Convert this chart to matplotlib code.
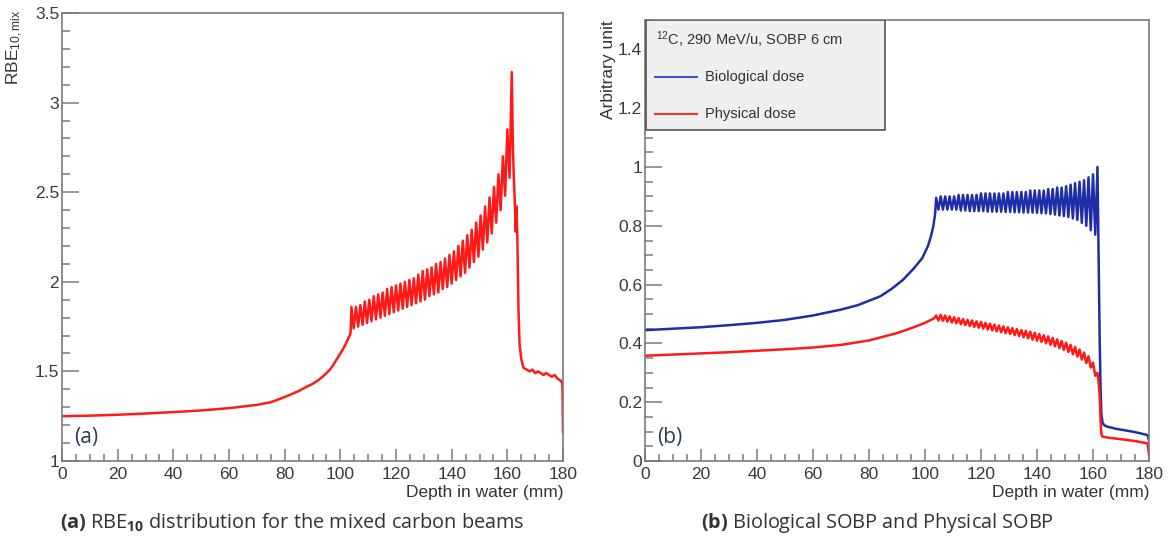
import numpy as np
import matplotlib
matplotlib.use("Agg")
import matplotlib.pyplot as plt
from matplotlib.patches import Rectangle
from matplotlib.lines import Line2D
from matplotlib.ticker import MultipleLocator

# ---------------- data ----------------
# common depth grid of the SOBP ripple (peaks / troughs), mm
peak_depth = [104.0, 105.6, 107.2, 108.8, 110.4, 112.0, 113.6, 115.2, 116.8, 118.4,
              120.0, 121.6, 123.2, 124.8, 126.4, 128.0, 129.6, 131.2, 132.8, 134.4,
              136.0, 137.6, 139.2, 140.8, 142.4, 144.0, 145.6, 147.2, 148.8, 150.4,
              152.0, 153.6, 155.2, 156.8, 158.4, 160.0, 161.6]
trough_depth = [104.8, 106.4, 108.0, 109.6, 111.2, 112.8, 114.4, 116.0, 117.6, 119.2,
                120.8, 122.4, 124.0, 125.6, 127.2, 128.8, 130.4, 132.0, 133.6, 135.2,
                136.8, 138.4, 140.0, 141.6, 143.2, 144.8, 146.4, 148.0, 149.6, 151.2,
                152.8, 154.4, 156.0, 157.6, 159.2, 160.8]

# (a) RBE10
rbe_pre_depth = [0, 10, 20, 30, 40, 50, 60, 70, 75, 78, 82, 85, 88, 90, 92, 94, 96, 97,
                 98, 99, 100, 101, 102, 102.6, 103.0, 103.4, 103.7]
rbe_pre = [1.25, 1.253, 1.258, 1.265, 1.273, 1.282, 1.295, 1.313, 1.328, 1.345, 1.37,
           1.39, 1.415, 1.43, 1.45, 1.475, 1.505, 1.525, 1.55, 1.575, 1.60, 1.625,
           1.655, 1.675, 1.69, 1.70, 1.72]
rbe_peak = [1.86, 1.86, 1.87, 1.89, 1.90, 1.92, 1.93, 1.94, 1.96, 1.97,
            1.98, 1.99, 2.00, 2.01, 2.02, 2.04, 2.06, 2.07, 2.08, 2.10,
            2.11, 2.13, 2.15, 2.17, 2.20, 2.23, 2.26, 2.29, 2.33, 2.37,
            2.42, 2.47, 2.53, 2.60, 2.70, 2.85, 3.17]
rbe_trough = [1.74, 1.75, 1.76, 1.77, 1.78, 1.79, 1.80, 1.81, 1.82, 1.83,
              1.84, 1.85, 1.86, 1.87, 1.88, 1.89, 1.90, 1.92, 1.93, 1.94,
              1.96, 1.97, 1.99, 2.01, 2.03, 2.05, 2.08, 2.11, 2.14, 2.18,
              2.22, 2.27, 2.33, 2.40, 2.48, 2.58]
rbe_post_depth = [162.0, 162.4, 162.8, 163.0, 163.3, 163.6, 164.0, 164.4, 165.0, 165.8,
                  167, 168, 169, 170, 171, 172, 173, 174, 175, 176, 177, 178, 179,
                  179.6, 179.8, 180]
rbe_post = [2.75, 2.55, 2.40, 2.28, 2.42, 2.25, 1.85, 1.65, 1.57, 1.52,
            1.51, 1.50, 1.51, 1.49, 1.50, 1.49, 1.48, 1.49, 1.48, 1.47, 1.48, 1.46, 1.45,
            1.44, 1.42, 1.16]

# (b) biological dose
bio_pre_depth = [0, 10, 20, 30, 40, 50, 60, 70, 76, 80, 84, 88, 92, 96, 99, 101, 102,
                 103, 103.6]
bio_pre = [0.445, 0.450, 0.455, 0.462, 0.470, 0.480, 0.495, 0.515, 0.530, 0.545,
           0.560, 0.585, 0.615, 0.655, 0.690, 0.730, 0.760, 0.800, 0.840]
bio_peak = [0.895, 0.90, 0.90, 0.90, 0.90, 0.905, 0.905, 0.905, 0.905, 0.905,
            0.91, 0.91, 0.91, 0.91, 0.91, 0.91, 0.915, 0.915, 0.915, 0.915,
            0.915, 0.92, 0.92, 0.92, 0.92, 0.925, 0.925, 0.93, 0.93, 0.935,
            0.94, 0.945, 0.95, 0.955, 0.965, 0.975, 1.00]
bio_trough = [0.855, 0.855, 0.855, 0.855, 0.855, 0.852, 0.852, 0.85, 0.85, 0.85,
              0.85, 0.848, 0.848, 0.848, 0.848, 0.847, 0.847, 0.846, 0.846, 0.845,
              0.845, 0.845, 0.844, 0.843, 0.842, 0.84, 0.838, 0.835, 0.833, 0.83,
              0.825, 0.82, 0.81, 0.80, 0.785, 0.77]
bio_post_depth = [162.0, 162.2, 162.4, 162.7, 163.0, 163.4, 164.0, 165, 168, 171, 174,
                  177, 179.5, 180]
bio_post = [0.70, 0.55, 0.40, 0.25, 0.16, 0.13, 0.122, 0.117, 0.110, 0.105, 0.100,
            0.094, 0.088, 0.07]

# (b) physical dose
phys_pre_depth = [0, 10, 20, 30, 40, 50, 60, 70, 80, 90, 96, 100, 103.2]
phys_pre = [0.358, 0.362, 0.366, 0.370, 0.375, 0.380, 0.386, 0.395, 0.410, 0.435,
            0.455, 0.470, 0.485]
phys_peak = [0.495, 0.497, 0.495, 0.492, 0.489, 0.486, 0.483, 0.480, 0.478, 0.475,
             0.473, 0.470, 0.467, 0.464, 0.461, 0.458, 0.455, 0.452, 0.449, 0.446,
             0.443, 0.440, 0.436, 0.432, 0.428, 0.424, 0.419, 0.414, 0.408, 0.402,
             0.395, 0.388, 0.379, 0.369, 0.356, 0.335, 0.30]
phys_trough = [0.478, 0.477, 0.474, 0.471, 0.468, 0.465, 0.462, 0.459, 0.456, 0.453,
               0.450, 0.447, 0.444, 0.441, 0.438, 0.435, 0.432, 0.428, 0.425, 0.421,
               0.417, 0.413, 0.409, 0.405, 0.400, 0.395, 0.390, 0.384, 0.378, 0.371,
               0.363, 0.355, 0.345, 0.333, 0.318, 0.29]
phys_post_depth = [162.0, 162.4, 162.7, 163.0, 163.4, 165, 170, 175, 179.5, 180]
phys_post = [0.27, 0.22, 0.14, 0.09, 0.083, 0.080, 0.074, 0.068, 0.060, 0.02]

x_ticks = [0, 20, 40, 60, 80, 100, 120, 140, 160, 180]
rbe_ticks = [1, 1.5, 2, 2.5, 3, 3.5]
dose_ticks = [0, 0.2, 0.4, 0.6, 0.8, 1, 1.2, 1.4]


def build(pre_d, pre_v, pk, tr, post_d, post_v):
    d = list(pre_d)
    v = list(pre_v)
    for i in range(len(peak_depth)):
        d.append(peak_depth[i]); v.append(pk[i])
        if i < len(trough_depth):
            d.append(trough_depth[i]); v.append(tr[i])
    d += list(post_d)
    v += list(post_v)
    return np.array(d), np.array(v)


rbe_d, rbe_v = build(rbe_pre_depth, rbe_pre, rbe_peak, rbe_trough, rbe_post_depth, rbe_post)
bio_d, bio_v = build(bio_pre_depth, bio_pre, bio_peak, bio_trough, bio_post_depth, bio_post)
phys_d, phys_v = build(phys_pre_depth, phys_pre, phys_peak, phys_trough, phys_post_depth, phys_post)

# ---------------- style ----------------
plt.rcParams['font.family'] = ['Liberation Sans', 'DejaVu Sans']
plt.rcParams['mathtext.fontset'] = 'custom'
plt.rcParams['mathtext.rm'] = 'Liberation Sans'
plt.rcParams['mathtext.it'] = 'Liberation Sans:italic'
plt.rcParams['mathtext.bf'] = 'Open Sans:bold'

W, H = 1169, 545
fig = plt.figure(figsize=(W / 100, H / 100), dpi=100)

spine_c = '#7a7a7a'
tick_lab_c = '#3a3a3a'
red = '#ff1a1a'
blue = '#1f2ea6'


def px_axes(l, r, t, b):
    return fig.add_axes([l / W, 1 - b / H, (r - l) / W, (b - t) / H])


def style(ax, ymajor, yminor):
    ax.set_xlim(0, 180)
    ax.set_xticks(x_ticks)
    ax.xaxis.set_minor_locator(MultipleLocator(5))
    ax.set_yticks(ymajor)
    ax.yaxis.set_minor_locator(MultipleLocator(yminor))
    for s in ax.spines.values():
        s.set_color(spine_c)
        s.set_linewidth(1.2)
    ax.tick_params(axis='both', which='both', direction='in', colors=spine_c,
                   labelcolor=tick_lab_c, top=False, right=False, width=1.1)
    ax.tick_params(axis='x', which='major', length=9, pad=4, labelsize=12.5)
    ax.tick_params(axis='x', which='minor', length=5)
    ax.tick_params(axis='y', which='major', length=12, pad=2, labelsize=12.5)
    ax.tick_params(axis='y', which='minor', length=6)
    ax.set_xticklabels([str(t) for t in x_ticks])


# ---- panel (a)
axa = px_axes(62, 563, 13, 461)
axa.plot(rbe_d, rbe_v, color=red, lw=1.8)
axa.set_ylim(1, 3.5)
style(axa, rbe_ticks, 0.1)
axa.set_yticklabels(['1', '1.5', '2', '2.5', '3', '3.5'])
fig.text(563 / W, 1 - 492 / H, 'Depth in water (mm)', ha='right', va='center',
         fontsize=12.5, color='#333333')
fig.text(15 / W, 1 - 9 / H, r'RBE$_{\mathrm{10,mix}}$', rotation=90, ha='center',
         va='top', fontsize=12.5, color='#333333')
fig.text(74 / W, 1 - 437 / H, '(a)', ha='left', va='center', fontsize=15,
         family='Open Sans', color='#2b3a55')

# ---- panel (b)
axb = px_axes(645, 1149, 20, 461)
axb.plot(bio_d, bio_v, color=blue, lw=1.8)
axb.plot(phys_d, phys_v, color=red, lw=1.8)
axb.set_ylim(0, 1.5)
style(axb, dose_ticks, 0.05)
axb.set_yticklabels(['0', '0.2', '0.4', '0.6', '0.8', '1', '1.2', '1.4'])
fig.text(1149 / W, 1 - 492 / H, 'Depth in water (mm)', ha='right', va='center',
         fontsize=12.5, color='#333333')
fig.text(608 / W, 1 - 20 / H, 'Arbitrary unit', rotation=90, ha='center',
         va='top', fontsize=12.5, color='#333333')
fig.text(657 / W, 1 - 437 / H, '(b)', ha='left', va='center', fontsize=15,
         family='Open Sans', color='#2b3a55')

# legend box
axb.add_patch(Rectangle((0.002, 0.7506), 0.474, 0.2494, transform=axb.transAxes,
                        facecolor='#efefef', edgecolor='#555555', lw=1.2, zorder=5))
axb.text(0.022, 0.955, r'$^{\mathrm{12}}$C, 290 MeV/u, SOBP 6 cm', transform=axb.transAxes,
         fontsize=10.5, ha='left', va='center', color='#333333', zorder=6)
axb.add_line(Line2D([0.02, 0.103], [0.8707, 0.8707], transform=axb.transAxes,
                    color='#4455cc', lw=1.5, zorder=6))
axb.text(0.119, 0.8707, 'Biological dose', transform=axb.transAxes, fontsize=10.5,
         ha='left', va='center', color='#333333', zorder=6)
axb.add_line(Line2D([0.02, 0.103], [0.7868, 0.7868], transform=axb.transAxes,
                    color='#ee3333', lw=1.5, zorder=6))
axb.text(0.119, 0.7868, 'Physical dose', transform=axb.transAxes, fontsize=10.5,
         ha='left', va='center', color='#333333', zorder=6)

# captions
fig.text(292 / W, 1 - 523 / H,
         r'$\mathbf{(a)}$ RBE$_{\mathbf{10}}$ distribution for the mixed carbon beams',
         ha='center', va='center', fontsize=14.3, family='Open Sans', color='#333333')
fig.text(877 / W, 1 - 523 / H, r'$\mathbf{(b)}$ Biological SOBP and Physical SOBP',
         ha='center', va='center', fontsize=14.3, family='Open Sans', color='#333333')

fig.savefig('out.png', dpi=100)
